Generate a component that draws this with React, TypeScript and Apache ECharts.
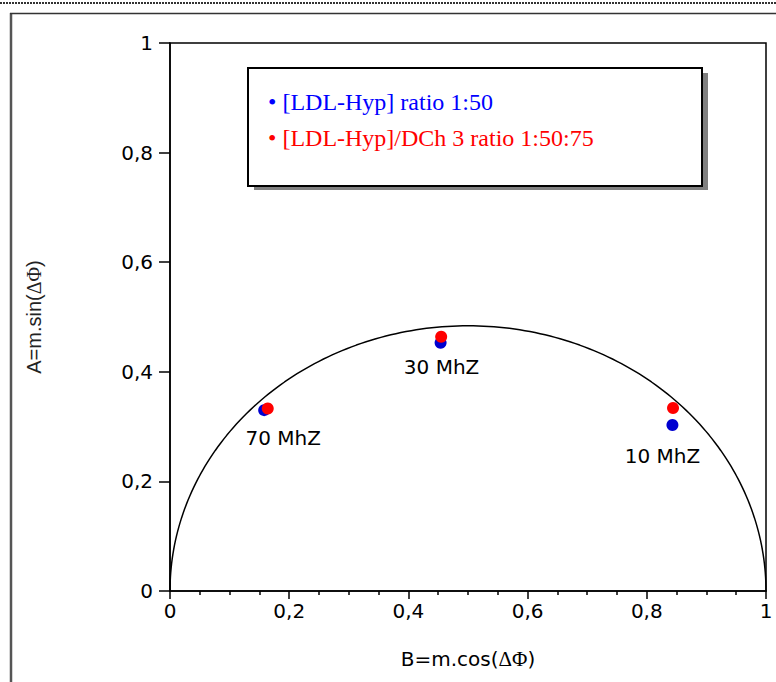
import React, { useEffect, useRef } from "react";
import * as echarts from "echarts";

// ---- data ----
const frequencies = ["70 MhZ", "30 MhZ", "10 MhZ"];
const seriesNames = ["[LDL-Hyp] ratio 1:50", "[LDL-Hyp]/DCh 3 ratio 1:50:75"];
const blueB = [0.158, 0.454, 0.843];
const blueA = [0.330, 0.453, 0.303];
const redB = [0.164, 0.455, 0.844];
const redA = [0.333, 0.464, 0.334];
const axisTicks = [0, 0.2, 0.4, 0.6, 0.8, 1];
// reference semicircle (centre B=0.5, A=0; half-width 0.5, height 0.484)
const arcCenterB = 0.5;
const arcRadiusB = 0.5;
const arcHeightA = 0.484;

// label offsets (style, px)
const labelOffsets = [
  [19, 28],
  [1, 24],
  [-10, 31],
];

const BLUE = "#0000FF";
const BLUE_DOT = "#0000D0";
const RED = "#FF0000";

function fmt(v: number) {
  const n = Number(v.toFixed(2));
  return String(n).replace(".", ",");
}

export default function App() {
  const ref = useRef<HTMLDivElement>(null);

  useEffect(() => {
    if (!ref.current) return;
    const chart = echarts.init(ref.current, null, { renderer: "svg" });

    const arcData: number[][] = [];
    for (let deg = 180; deg >= 0; deg -= 1) {
      const t = (deg * Math.PI) / 180;
      arcData.push([arcCenterB + arcRadiusB * Math.cos(t), arcHeightA * Math.sin(t)]);
    }

    const blueData = blueB.map((b, i) => ({
      value: [b, blueA[i]],
      label: {
        show: true,
        position: "inside",
        offset: labelOffsets[i],
        formatter: frequencies[i],
      },
    }));
    const redData = redB.map((b, i) => [b, redA[i]]);

    const tickFont = { fontFamily: "DejaVu Sans", fontSize: 20, color: "#000" };

    chart.setOption({
      animation: false,
      backgroundColor: "#fff",
      grid: {
        left: 170,
        top: 43,
        right: 10,
        bottom: 91,
        show: true,
        borderColor: "#000",
        borderWidth: 1.5,
        backgroundColor: "transparent",
      },
      xAxis: {
        type: "value",
        min: axisTicks[0],
        max: axisTicks[axisTicks.length - 1],
        interval: 0.2,
        name: "B=m.cos({g|ΔΦ})",
        nameLocation: "middle",
        nameGap: 57,
        nameTextStyle: {
          fontFamily: "DejaVu Sans",
          fontSize: 20,
          color: "#000",
          rich: { g: { fontFamily: "Liberation Serif", fontSize: 21, color: "#000" } },
        },
        axisLine: { show: true, lineStyle: { color: "#000", width: 1.5 } },
        axisTick: { show: true, inside: false, length: 8, lineStyle: { color: "#000", width: 1.5 } },
        minorTick: { show: true, splitNumber: 4, length: 4, lineStyle: { color: "#000", width: 1.5 } },
        splitLine: { show: false },
        axisLabel: { ...tickFont, margin: 10, formatter: (v: number) => fmt(v) },
      },
      yAxis: {
        type: "value",
        min: axisTicks[0],
        max: axisTicks[axisTicks.length - 1],
        interval: 0.2,
        name: "A=m.sin({g|ΔΦ})",
        nameLocation: "middle",
        nameRotate: 90,
        nameGap: 126,
        nameTextStyle: {
          fontFamily: "Liberation Sans",
          fontSize: 20,
          color: "#222",
          rich: { g: { fontFamily: "Liberation Serif", fontSize: 20, color: "#222" } },
        },
        axisLine: { show: true, lineStyle: { color: "#000", width: 1.5 } },
        axisTick: { show: true, inside: false, length: 11, lineStyle: { color: "#000", width: 1.5 } },
        splitLine: { show: false },
        axisLabel: { ...tickFont, margin: 17, formatter: (v: number) => fmt(v) },
      },
      series: [
        {
          name: "arc",
          type: "line",
          data: arcData,
          symbol: "none",
          silent: true,
          lineStyle: { color: "#000", width: 1.5 },
          z: 1,
        },
        {
          name: seriesNames[0],
          type: "scatter",
          data: blueData,
          symbol: "circle",
          symbolSize: 12,
          itemStyle: { color: BLUE_DOT, opacity: 1 },
          label: {
            fontFamily: "DejaVu Sans",
            fontSize: 20,
            color: "#000",
            opacity: 1,
            align: "center",
            verticalAlign: "middle",
          },
          z: 3,
        },
        {
          name: seriesNames[1],
          type: "scatter",
          data: redData,
          symbol: "circle",
          symbolSize: 12,
          itemStyle: { color: RED, opacity: 1 },
          z: 4,
        },
      ],
      graphic: [
        // dotted line at top of page
        {
          type: "line",
          shape: { x1: 0, y1: 3, x2: 776, y2: 3 },
          style: { stroke: "#333", lineWidth: 2, lineDash: [2, 1] },
          silent: true,
        },
        // outer frame
        {
          type: "line",
          shape: { x1: 11, y1: 13, x2: 11, y2: 682 },
          style: { stroke: "#555", lineWidth: 2.5 },
          silent: true,
        },
        {
          type: "line",
          shape: { x1: 10, y1: 13.5, x2: 776, y2: 13.5 },
          style: { stroke: "#333", lineWidth: 1.5 },
          silent: true,
        },
        // legend box with shadow
        {
          type: "rect",
          shape: { x: 254, y: 73, width: 454, height: 117 },
          style: { fill: "#808080" },
          silent: true,
          z: 10,
        },
        {
          type: "rect",
          shape: { x: 248, y: 68, width: 454, height: 118 },
          style: { fill: "#fff", stroke: "#000", lineWidth: 2 },
          silent: true,
          z: 11,
        },
        {
          type: "text",
          x: 268,
          y: 102,
          style: {
            text: "• " + seriesNames[0],
            fill: BLUE,
            font: '24px "Liberation Serif"',
            verticalAlign: "middle",
          },
          silent: true,
          z: 12,
        },
        {
          type: "text",
          x: 268,
          y: 138,
          style: {
            text: "• " + seriesNames[1],
            fill: RED,
            font: '24px "Liberation Serif"',
            verticalAlign: "middle",
          },
          silent: true,
          z: 12,
        },
      ],
    });

    return () => chart.dispose();
  }, []);

  return (
    <div
      ref={ref}
      style={{ position: "fixed", left: 0, top: 0, width: 776, height: 682 }}
    />
  );
}
